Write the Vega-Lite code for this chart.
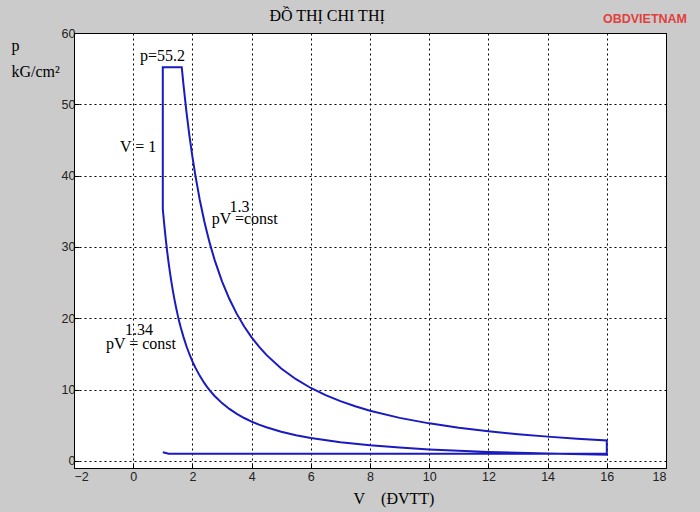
{
  "$schema": "https://vega.github.io/schema/vega-lite/v6.json",
  "width": 592,
  "height": 435,
  "autosize": {"type": "none"},
  "padding": {"left": 74, "top": 33, "right": 34, "bottom": 44},
  "background": "#cbcbcb",
  "view": {"fill": "#ffffff", "stroke": "#000000", "strokeWidth": 1},
  "datasets": {
    "cycle": [
      {"i": 1, "V": 1, "p": 1.2}, {"i": 2, "V": 1.2, "p": 1.0}, {"i": 3, "V": 16, "p": 1.0}, {"i": 4, "V": 16, "p": 0.86},
      {"i": 5, "V": 14, "p": 1.03}, {"i": 6, "V": 12, "p": 1.26}, {"i": 7, "V": 10, "p": 1.61}, {"i": 8, "V": 9, "p": 1.86},
      {"i": 9, "V": 8, "p": 2.18}, {"i": 10, "V": 7, "p": 2.6}, {"i": 11, "V": 6, "p": 3.2}, {"i": 12, "V": 5.5, "p": 3.6},
      {"i": 13, "V": 5, "p": 4.09}, {"i": 14, "V": 4.5, "p": 4.71}, {"i": 15, "V": 4.25, "p": 5.08}, {"i": 16, "V": 4, "p": 5.51},
      {"i": 17, "V": 3.75, "p": 6.01}, {"i": 18, "V": 3.5, "p": 6.59}, {"i": 19, "V": 3.25, "p": 7.28}, {"i": 20, "V": 3, "p": 8.1},
      {"i": 21, "V": 2.75, "p": 9.1}, {"i": 22, "V": 2.6, "p": 9.82}, {"i": 23, "V": 2.5, "p": 10.35}, {"i": 24, "V": 2.4, "p": 10.93},
      {"i": 25, "V": 2.25, "p": 11.92}, {"i": 26, "V": 2.1, "p": 13.07}, {"i": 27, "V": 2, "p": 13.95}, {"i": 28, "V": 1.9, "p": 14.95},
      {"i": 29, "V": 1.8, "p": 16.07}, {"i": 30, "V": 1.7, "p": 17.35}, {"i": 31, "V": 1.6, "p": 18.82}, {"i": 32, "V": 1.55, "p": 19.63},
      {"i": 33, "V": 1.5, "p": 20.51}, {"i": 34, "V": 1.45, "p": 21.47}, {"i": 35, "V": 1.4, "p": 22.5}, {"i": 36, "V": 1.35, "p": 23.63},
      {"i": 37, "V": 1.3, "p": 24.85}, {"i": 38, "V": 1.25, "p": 26.19}, {"i": 39, "V": 1.2, "p": 27.67}, {"i": 40, "V": 1.15, "p": 29.28},
      {"i": 41, "V": 1.1, "p": 31.08}, {"i": 42, "V": 1.05, "p": 33.08}, {"i": 43, "V": 1.0, "p": 35.32},
      {"i": 44, "V": 1.0, "p": 55.2}, {"i": 45, "V": 1.64, "p": 55.2},
      {"i": 46, "V": 1.7, "p": 52.68}, {"i": 47, "V": 1.8, "p": 48.91}, {"i": 48, "V": 1.9, "p": 45.59}, {"i": 49, "V": 2, "p": 42.65},
      {"i": 50, "V": 2.1, "p": 40.03}, {"i": 51, "V": 2.25, "p": 36.59}, {"i": 52, "V": 2.4, "p": 33.65}, {"i": 53, "V": 2.5, "p": 31.91},
      {"i": 54, "V": 2.6, "p": 30.32}, {"i": 55, "V": 2.75, "p": 28.19}, {"i": 56, "V": 3, "p": 25.18}, {"i": 57, "V": 3.25, "p": 22.69},
      {"i": 58, "V": 3.5, "p": 20.61}, {"i": 59, "V": 3.75, "p": 18.83}, {"i": 60, "V": 4, "p": 17.32}, {"i": 61, "V": 4.25, "p": 16.01},
      {"i": 62, "V": 4.5, "p": 14.86}, {"i": 63, "V": 5, "p": 12.96}, {"i": 64, "V": 5.5, "p": 11.45}, {"i": 65, "V": 6, "p": 10.22},
      {"i": 66, "V": 6.5, "p": 9.21}, {"i": 67, "V": 7, "p": 8.37}, {"i": 68, "V": 7.5, "p": 7.65}, {"i": 69, "V": 8, "p": 7.03},
      {"i": 70, "V": 9, "p": 6.03}, {"i": 71, "V": 10, "p": 5.26}, {"i": 72, "V": 11, "p": 4.65}, {"i": 73, "V": 12, "p": 4.15},
      {"i": 74, "V": 13, "p": 3.74}, {"i": 75, "V": 14, "p": 3.4}, {"i": 76, "V": 15, "p": 3.11}, {"i": 77, "V": 16, "p": 2.86},
      {"i": 78, "V": 16, "p": 0.86}
    ],
    "notes": [
      {"V": 0.23, "p": 56.1, "label": "p=55.2"},
      {"V": -0.45, "p": 43.36, "label": "V = 1"},
      {"V": 2.65, "p": 33.2, "label": "pV =const"},
      {"V": 3.25, "p": 34.95, "label": "1.3"},
      {"V": -0.92, "p": 15.66, "label": "pV = const"},
      {"V": -0.28, "p": 17.66, "label": "1.34"}
    ],
    "heading": [
      {"V": 6.55, "p": 61.69, "label": "ĐỒ THỊ CHI THỊ"}
    ],
    "logo": [
      {"V": 17.29, "p": 61.36, "label": "OBDVIETNAM"}
    ]
  },
  "layer": [
    {
      "data": {"name": "cycle"},
      "mark": {"type": "line", "color": "#1a1ac0", "strokeWidth": 2, "clip": true},
      "encoding": {
        "x": {"field": "V", "type": "quantitative",
          "scale": {"domain": [-2, 18], "nice": false, "zero": false},
          "axis": {"values": [-2, 0, 2, 4, 6, 8, 10, 12, 14, 16, 18], "format": "d", "grid": true, "gridDash": [2, 3], "gridColor": "#000000", "gridOpacity": 1,
            "tickSize": -5, "tickColor": "#000000", "domainColor": "#000000", "labelFont": "Liberation Sans", "labelFontSize": 12.5, "labelColor": "#222222", "labelPadding": 7,
            "title": "V\u00a0\u00a0\u00a0\u00a0(ĐVTT)", "titleX": 279, "titleY": 35, "titleAlign": "left", "titleBaseline": "alphabetic",
            "titleFont": "Liberation Serif", "titleFontSize": 16, "titleFontWeight": "normal", "titleColor": "#000000"}},
        "y": {"field": "p", "type": "quantitative",
          "scale": {"domain": [-1, 60], "nice": false, "zero": false},
          "axis": {"values": [0, 10, 20, 30, 40, 50, 60], "grid": true, "gridDash": [2, 3], "gridColor": "#000000", "gridOpacity": 1,
            "tickSize": -5, "tickColor": "#000000", "domainColor": "#000000", "labelFont": "Liberation Sans", "labelFontSize": 12.5, "labelColor": "#222222", "labelPadding": 4,
            "title": ["p", "kG/cm²"], "titleAngle": 0, "titleX": -63, "titleY": 17, "titleAlign": "left", "titleBaseline": "alphabetic", "titleLineHeight": 26,
            "titleFont": "Liberation Serif", "titleFontSize": 16, "titleFontWeight": "normal", "titleColor": "#000000"}},
        "order": {"field": "i", "type": "quantitative"}
      }
    },
    {
      "data": {"name": "notes"},
      "mark": {"type": "text", "align": "left", "baseline": "alphabetic", "font": "Liberation Serif", "fontSize": 16, "color": "#000000"},
      "encoding": {
        "x": {"field": "V", "type": "quantitative"},
        "y": {"field": "p", "type": "quantitative"},
        "text": {"field": "label"}
      }
    },
    {
      "data": {"name": "heading"},
      "mark": {"type": "text", "align": "center", "baseline": "alphabetic", "font": "Liberation Serif", "fontSize": 16, "color": "#000000"},
      "encoding": {
        "x": {"field": "V", "type": "quantitative"},
        "y": {"field": "p", "type": "quantitative"},
        "text": {"field": "label"}
      }
    },
    {
      "data": {"name": "logo"},
      "mark": {"type": "text", "align": "center", "baseline": "alphabetic", "font": "Liberation Sans", "fontWeight": "bold", "fontSize": 12.5, "color": "#e0413f"},
      "encoding": {
        "x": {"field": "V", "type": "quantitative"},
        "y": {"field": "p", "type": "quantitative"},
        "text": {"field": "label"}
      }
    }
  ]
}
